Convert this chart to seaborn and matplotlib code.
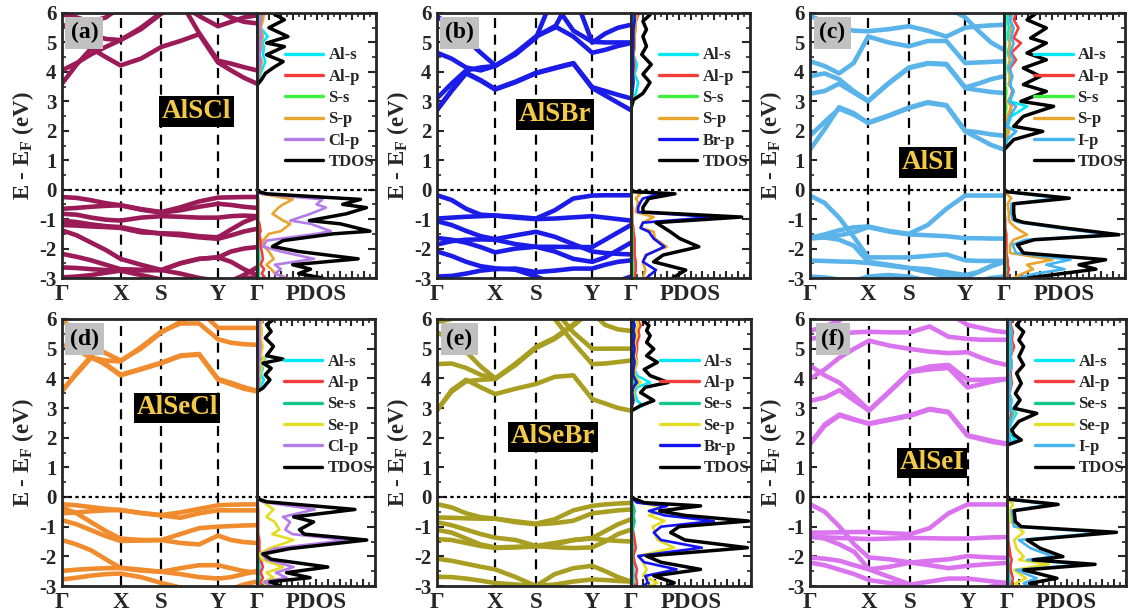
import numpy as np
import pandas as pd
import matplotlib
matplotlib.use("Agg")
import matplotlib.pyplot as plt
import seaborn as sns
from matplotlib.ticker import MultipleLocator

# ---------------------------------------------------------------- k-path
K_NODES = [0.0, 0.075, 0.15, 0.225, 0.30, 0.405, 0.51, 0.607, 0.703, 0.80, 0.867, 0.933, 1.0]
K_TICKS = [0.0, 0.30, 0.51, 0.80, 1.0]
K_LABELS = ["Γ", "X", "S", "Y", "Γ"]
Y_TICKS = [-3, -2, -1, 0, 1, 2, 3, 4, 5, 6]

# ---------------------------------------------------------------- band energies (eV) at K_NODES
ALSCL_BANDS = [
    [3.60, 4.25, 4.80, 4.50, 4.22, 4.45, 4.85, 5.05, 5.28, 4.32, 4.05, 3.80, 3.60],
    [4.05, 4.30, 4.60, 4.85, 5.08, 5.45, 5.98, 6.40, 5.32, 4.38, 4.28, 4.16, 4.05],
    [5.60, 5.45, 5.25, 5.12, 5.08, 5.50, 6.02, 6.30, 5.90, 5.55, 5.70, 5.85, 5.92],
    [5.95, 5.85, 5.70, 5.85, 6.20, 6.50, 6.50, 6.50, 6.50, 6.10, 5.85, 5.70, 5.65],
    [-0.25, -0.28, -0.36, -0.46, -0.53, -0.66, -0.76, -0.60, -0.40, -0.27, -0.26, -0.25, -0.25],
    [-0.65, -0.62, -0.58, -0.55, -0.53, -0.68, -0.78, -0.70, -0.58, -0.48, -0.52, -0.58, -0.62],
    [-0.82, -0.85, -0.95, -1.02, -1.05, -0.95, -0.90, -0.92, -0.95, -0.95, -0.90, -0.88, -0.90],
    [-1.05, -1.10, -1.18, -1.24, -1.27, -1.40, -1.50, -1.55, -1.62, -1.67, -1.55, -1.42, -1.33],
    [-1.20, -1.22, -1.25, -1.27, -1.30, -1.45, -1.48, -1.50, -1.58, -1.62, -1.35, -1.10, -0.93],
    [-1.38, -1.55, -1.80, -2.05, -2.35, -2.55, -2.73, -2.50, -2.35, -2.30, -2.10, -2.00, -1.95],
    [-2.18, -2.28, -2.40, -2.55, -2.70, -2.72, -2.73, -2.50, -2.35, -2.30, -2.45, -2.70, -2.90],
    [-2.64, -2.66, -2.70, -2.73, -2.75, -2.90, -3.05, -3.20, -3.20, -3.20, -3.10, -2.90, -2.64],
    [-2.98, -2.95, -2.90, -2.82, -2.75, -2.74, -2.73, -2.85, -3.00, -3.10, -3.10, -3.00, -2.98],
]
ALSBR_BANDS = [
    [2.70, 3.35, 3.95, 3.70, 3.40, 3.65, 3.95, 4.12, 4.28, 3.45, 3.20, 2.95, 2.70],
    [2.72, 3.37, 3.97, 3.72, 3.42, 3.67, 3.97, 4.14, 4.30, 3.48, 3.35, 3.22, 3.10],
    [3.10, 3.60, 4.05, 4.15, 4.20, 4.65, 5.20, 5.50, 6.70, 6.70, 6.70, 6.70, 6.70],
    [4.65, 4.45, 4.15, 4.05, 4.20, 4.60, 5.20, 5.55, 5.20, 4.65, 4.75, 4.88, 4.98],
    [5.90, 5.50, 5.10, 4.65, 4.22, 4.60, 5.15, 6.70, 6.70, 5.00, 5.30, 5.50, 5.60],
    [6.60, 6.60, 6.60, 6.60, 6.60, 6.60, 6.60, 6.30, 5.40, 5.02, 5.00, 5.00, 5.00],
    [-0.19, -0.35, -0.65, -0.85, -0.88, -0.92, -0.98, -0.70, -0.30, -0.20, -0.19, -0.19, -0.19],
    [-0.98, -0.95, -0.92, -0.90, -0.88, -0.95, -1.00, -0.98, -0.94, -0.90, -0.95, -1.00, -1.05],
    [-1.07, -1.20, -1.40, -1.58, -1.68, -1.55, -1.43, -1.60, -1.85, -2.10, -2.15, -2.18, -2.20],
    [-1.64, -1.70, -1.80, -1.95, -2.13, -2.00, -1.94, -1.94, -1.95, -1.95, -1.70, -1.45, -1.20],
    [-1.86, -1.75, -1.70, -1.69, -1.70, -1.85, -1.94, -2.10, -2.35, -2.45, -2.30, -2.05, -1.80],
    [-2.10, -2.25, -2.45, -2.60, -2.67, -2.72, -2.95, -3.20, -3.30, -3.30, -3.20, -3.10, -2.95],
    [-2.95, -2.93, -2.85, -2.75, -2.70, -2.68, -2.80, -2.75, -2.68, -2.68, -2.55, -2.45, -2.40],
]
ALSI_BANDS = [
    [1.36, 2.05, 2.80, 2.60, 2.26, 2.50, 2.77, 2.95, 2.85, 1.98, 1.75, 1.52, 1.36],
    [1.83, 2.30, 2.75, 2.55, 2.28, 2.52, 2.79, 2.97, 2.87, 2.00, 1.95, 1.88, 1.83],
    [3.26, 3.35, 3.60, 3.30, 3.00, 3.60, 4.13, 4.28, 4.25, 3.45, 3.38, 3.32, 3.28],
    [3.85, 3.95, 3.75, 3.35, 3.02, 3.62, 4.15, 4.30, 4.27, 3.47, 3.60, 3.75, 3.85],
    [4.36, 4.20, 3.95, 4.30, 5.20, 5.00, 4.87, 5.05, 5.05, 4.30, 4.32, 4.34, 4.36],
    [5.90, 5.70, 5.50, 5.40, 5.38, 5.45, 5.55, 5.40, 5.20, 5.50, 5.55, 5.58, 5.60],
    [6.50, 6.50, 6.50, 6.50, 6.50, 6.50, 6.50, 6.50, 6.20, 5.85, 5.40, 5.00, 4.75],
    [-0.20, -0.45, -0.95, -1.60, -2.30, -2.30, -2.30, -2.25, -2.20, -2.40, -2.42, -2.42, -2.42],
    [-1.64, -1.52, -1.38, -1.28, -1.25, -1.40, -1.50, -1.20, -0.65, -0.20, -0.20, -0.20, -0.20],
    [-1.66, -1.62, -1.55, -1.45, -1.27, -1.42, -1.52, -1.55, -1.58, -1.65, -1.65, -1.66, -1.66],
    [-1.60, -1.62, -1.70, -1.90, -2.45, -2.55, -2.66, -2.70, -2.80, -2.90, -2.80, -2.60, -2.45],
    [-2.41, -2.42, -2.44, -2.45, -2.49, -2.58, -2.66, -2.80, -2.95, -3.00, -2.80, -2.60, -2.45],
    [-2.95, -2.98, -3.05, -3.10, -2.95, -2.90, -2.95, -3.10, -3.20, -3.20, -3.10, -3.00, -2.95],
]
ALSECL_BANDS = [
    [3.56, 4.20, 4.75, 4.45, 4.10, 4.30, 4.51, 4.75, 4.80, 3.95, 3.80, 3.65, 3.56],
    [3.58, 4.15, 4.70, 4.48, 4.12, 4.32, 4.53, 4.77, 4.82, 3.98, 3.85, 3.70, 3.58],
    [5.13, 4.95, 4.70, 4.60, 4.57, 5.05, 5.58, 5.85, 5.85, 5.32, 5.20, 5.15, 5.13],
    [5.95, 5.60, 5.10, 4.85, 4.60, 5.00, 5.55, 5.90, 6.30, 5.70, 5.70, 5.70, 5.70],
    [-0.24, -0.28, -0.34, -0.40, -0.44, -0.54, -0.61, -0.52, -0.40, -0.28, -0.26, -0.25, -0.25],
    [-0.55, -0.52, -0.48, -0.45, -0.44, -0.54, -0.62, -0.70, -0.55, -0.45, -0.45, -0.45, -0.45],
    [-0.35, -0.55, -0.85, -1.15, -1.40, -1.45, -1.45, -1.25, -1.05, -1.00, -0.98, -0.96, -0.95],
    [-0.78, -0.92, -1.12, -1.32, -1.48, -1.47, -1.45, -1.55, -1.60, -1.30, -1.45, -1.52, -1.55],
    [-1.45, -1.60, -1.80, -2.10, -2.39, -2.45, -2.52, -2.40, -2.30, -2.30, -2.40, -2.50, -2.55],
    [-2.49, -2.45, -2.42, -2.40, -2.39, -2.48, -2.52, -2.60, -2.70, -2.75, -2.70, -2.60, -2.49],
    [-2.78, -2.72, -2.65, -2.60, -2.58, -2.70, -2.90, -3.05, -3.20, -3.20, -3.10, -2.95, -2.85],
]
ALSEBR_BANDS = [
    [2.91, 3.60, 3.95, 3.70, 3.47, 3.65, 3.81, 4.05, 4.10, 3.30, 3.15, 3.00, 2.91],
    [2.93, 3.55, 3.90, 3.95, 3.98, 4.50, 5.04, 5.35, 5.80, 6.30, 6.50, 6.50, 6.50],
    [4.48, 4.50, 4.35, 4.12, 3.98, 4.45, 5.02, 5.33, 5.78, 6.30, 6.50, 6.50, 6.50],
    [5.55, 5.30, 4.90, 4.40, 4.00, 4.48, 5.06, 5.37, 5.82, 6.30, 6.50, 6.50, 6.50],
    [6.50, 6.50, 6.50, 6.50, 6.50, 6.50, 6.50, 6.30, 5.55, 5.00, 5.00, 5.00, 5.00],
    [6.50, 6.50, 6.50, 6.50, 6.50, 6.50, 6.50, 6.00, 5.20, 4.48, 4.50, 4.55, 4.60],
    [5.90, 6.00, 6.30, 6.50, 6.50, 6.50, 6.50, 6.50, 6.50, 6.20, 5.80, 5.65, 5.60],
    [-0.24, -0.35, -0.55, -0.68, -0.73, -0.82, -0.90, -0.75, -0.45, -0.30, -0.25, -0.22, -0.20],
    [-0.69, -0.70, -0.72, -0.73, -0.73, -0.85, -0.92, -0.88, -0.80, -0.55, -0.50, -0.45, -0.42],
    [-0.85, -0.95, -1.10, -1.25, -1.37, -1.45, -1.65, -1.55, -1.45, -1.38, -1.15, -0.92, -0.75],
    [-1.11, -1.20, -1.40, -1.60, -1.70, -1.68, -1.65, -1.70, -1.72, -1.70, -1.50, -1.25, -1.10],
    [-1.42, -1.45, -1.55, -1.65, -1.72, -1.70, -1.67, -1.60, -1.45, -1.40, -1.45, -1.48, -1.50],
    [-2.08, -2.15, -2.25, -2.35, -2.44, -2.70, -3.00, -2.60, -2.40, -2.32, -2.50, -2.70, -2.85],
    [-2.69, -2.70, -2.75, -2.82, -2.90, -2.95, -3.00, -2.95, -2.85, -2.78, -2.80, -2.83, -2.85],
]
ALSEI_BANDS = [
    [1.78, 2.45, 2.78, 2.62, 2.46, 2.60, 2.74, 2.95, 2.85, 2.06, 1.95, 1.85, 1.78],
    [1.80, 2.40, 2.75, 2.60, 2.48, 2.62, 2.76, 2.97, 2.87, 2.08, 1.98, 1.88, 1.80],
    [3.24, 3.35, 3.60, 3.25, 2.91, 3.55, 4.22, 4.30, 4.35, 3.69, 3.80, 3.90, 3.98],
    [4.43, 4.10, 3.85, 3.40, 2.93, 3.57, 4.24, 4.40, 4.45, 3.95, 3.95, 3.96, 3.98],
    [3.98, 4.30, 4.70, 5.00, 5.27, 5.10, 4.99, 4.90, 4.85, 4.88, 4.70, 4.55, 4.45],
    [5.33, 5.40, 5.50, 5.55, 5.57, 5.55, 5.55, 5.75, 5.40, 5.33, 5.30, 5.30, 5.30],
    [5.60, 5.75, 5.95, 6.30, 6.50, 6.50, 6.50, 6.50, 6.20, 5.80, 5.70, 5.60, 5.55],
    [-0.24, -0.50, -1.00, -1.60, -2.04, -2.10, -2.21, -2.15, -2.10, -1.99, -2.02, -2.04, -2.05],
    [-1.20, -1.20, -1.19, -1.18, -1.18, -1.22, -1.25, -1.05, -0.55, -0.25, -0.25, -0.25, -0.25],
    [-1.33, -1.40, -1.60, -1.85, -2.44, -2.35, -2.21, -2.30, -2.40, -2.32, -2.28, -2.25, -2.22],
    [-2.04, -2.08, -2.15, -2.30, -2.44, -2.70, -2.95, -2.85, -2.75, -2.75, -2.80, -2.85, -2.90],
    [-2.21, -2.30, -2.45, -2.60, -2.80, -2.90, -2.95, -3.10, -3.20, -3.20, -3.10, -3.00, -2.90],
    [-1.35, -1.36, -1.38, -1.40, -1.42, -1.40, -1.38, -1.39, -1.40, -1.40, -1.38, -1.36, -1.35],
]

# ---------------------------------------------------------------- projected DOS (arb. units)
# AlSCl
ALSCL_E = [-3.00, -2.85, -2.70, -2.55, -2.35, -2.10, -1.93, -1.73, -1.50, -1.41, -1.16, -1.05, -0.82, -0.61, -0.50, -0.33, -0.14, -0.05,
           3.55, 3.75, 3.95, 4.15, 4.35, 4.58, 4.86, 4.98, 5.20, 5.50, 5.77, 6.00]
ALSCL_ALS = [0.02, 0.015, 0.015, 0.01, 0.02, 0.015, 0.01, 0.01, 0.01, 0.01, 0.01, 0.005, 0.005, 0.005, 0.0, 0.0, 0.0, 0.0,
             0.0, 0.02, 0.03, 0.05, 0.07, 0.05, 0.06, 0.04, 0.09, 0.03, 0.03, 0.02]
ALSCL_ALP = [0.07, 0.04, 0.06, 0.03, 0.05, 0.04, 0.03, 0.03, 0.02, 0.03, 0.02, 0.01, 0.01, 0.01, 0.01, 0.01, 0.0, 0.0,
             0.0, 0.01, 0.01, 0.02, 0.03, 0.02, 0.03, 0.02, 0.03, 0.03, 0.04, 0.05]
ALSCL_SS = [0.01, 0.01, 0.01, 0.01, 0.01, 0.01, 0.005, 0.005, 0.005, 0.005, 0.005, 0.005, 0.005, 0.005, 0.005, 0.005, 0.0, 0.0,
            0.0, 0.005, 0.005, 0.01, 0.01, 0.005, 0.01, 0.005, 0.01, 0.01, 0.01, 0.01]
ALSCL_SP = [0.25, 0.15, 0.12, 0.08, 0.14, 0.10, 0.06, 0.05, 0.10, 0.20, 0.28, 0.22, 0.13, 0.18, 0.22, 0.30, 0.04, 0.0,
            0.0, 0.01, 0.02, 0.03, 0.04, 0.02, 0.04, 0.03, 0.05, 0.03, 0.05, 0.06]
ALSCL_CLP = [0.25, 0.15, 0.20, 0.15, 0.48, 0.20, 0.05, 0.08, 0.50, 0.62, 0.45, 0.28, 0.45, 0.58, 0.50, 0.55, 0.03, 0.0,
             0.0, 0.01, 0.01, 0.02, 0.03, 0.02, 0.03, 0.02, 0.04, 0.02, 0.03, 0.04]
ALSCL_TDOS = [0.55, 0.35, 0.45, 0.30, 0.85, 0.35, 0.13, 0.22, 0.64, 0.95, 0.70, 0.44, 0.75, 0.92, 0.72, 0.87, 0.08, 0.0,
              0.0, 0.04, 0.07, 0.14, 0.22, 0.08, 0.23, 0.08, 0.26, 0.10, 0.23, 0.13]

# AlSBr
ALSBR_E = [-3.00, -2.73, -2.45, -2.22, -1.94, -1.66, -1.43, -1.30, -1.12, -0.93, -0.76, -0.60, -0.42, -0.30, -0.14, -0.06,
           2.75, 3.05, 3.27, 3.64, 3.92, 4.25, 4.59, 4.87, 5.20, 5.44, 5.72, 5.94]
ALSBR_ALS = [0.02, 0.02, 0.02, 0.015, 0.015, 0.01, 0.01, 0.01, 0.01, 0.005, 0.005, 0.005, 0.0, 0.0, 0.0, 0.0,
             0.0, 0.01, 0.04, 0.06, 0.03, 0.05, 0.02, 0.03, 0.02, 0.02, 0.02, 0.02]
ALSBR_ALP = [0.03, 0.04, 0.04, 0.03, 0.03, 0.03, 0.02, 0.02, 0.01, 0.01, 0.01, 0.01, 0.0, 0.0, 0.0, 0.0,
             0.0, 0.005, 0.01, 0.02, 0.02, 0.03, 0.02, 0.03, 0.03, 0.03, 0.04, 0.06]
ALSBR_SS = [0.015, 0.015, 0.01, 0.01, 0.01, 0.01, 0.01, 0.01, 0.005, 0.005, 0.005, 0.005, 0.0, 0.0, 0.0, 0.0,
            0.0, 0.005, 0.01, 0.015, 0.01, 0.015, 0.01, 0.01, 0.01, 0.01, 0.01, 0.01]
ALSBR_SP = [0.10, 0.12, 0.10, 0.12, 0.30, 0.20, 0.19, 0.08, 0.10, 0.19, 0.04, 0.05, 0.06, 0.04, 0.08, 0.0,
            0.0, 0.005, 0.01, 0.02, 0.02, 0.03, 0.02, 0.03, 0.03, 0.04, 0.04, 0.05]
ALSBR_BRP = [0.13, 0.21, 0.10, 0.13, 0.28, 0.19, 0.15, 0.08, 0.10, 0.70, 0.06, 0.06, 0.08, 0.10, 0.25, 0.0,
             0.0, 0.005, 0.01, 0.02, 0.015, 0.02, 0.015, 0.02, 0.02, 0.02, 0.03, 0.03]
ALSBR_TDOS = [0.35, 0.46, 0.19, 0.27, 0.57, 0.41, 0.33, 0.28, 0.21, 0.93, 0.10, 0.10, 0.13, 0.15, 0.37, 0.0,
              0.0, 0.02, 0.10, 0.16, 0.10, 0.17, 0.09, 0.13, 0.10, 0.13, 0.10, 0.16]

# AlSI
ALSI_E = [-3.00, -2.86, -2.70, -2.55, -2.38, -2.15, -1.87, -1.70, -1.53, -1.30, -1.11, -1.02, -0.80, -0.48, -0.29, -0.06,
          1.35, 1.70, 1.98, 2.15, 2.49, 2.83, 3.00, 3.34, 3.57, 3.85, 4.13, 4.41, 4.64, 4.98, 5.15, 5.49, 5.77, 6.00]
ALSI_ALS = [0.02, 0.02, 0.02, 0.015, 0.015, 0.01, 0.01, 0.01, 0.01, 0.005, 0.005, 0.005, 0.0, 0.0, 0.0, 0.0,
            0.0, 0.03, 0.10, 0.03, 0.06, 0.19, 0.05, 0.08, 0.04, 0.05, 0.03, 0.05, 0.03, 0.05, 0.03, 0.04, 0.03, 0.03]
ALSI_ALP = [0.03, 0.03, 0.04, 0.03, 0.03, 0.02, 0.02, 0.02, 0.02, 0.01, 0.01, 0.01, 0.005, 0.005, 0.005, 0.0,
            0.0, 0.01, 0.04, 0.02, 0.04, 0.06, 0.04, 0.07, 0.05, 0.06, 0.05, 0.10, 0.06, 0.14, 0.08, 0.12, 0.08, 0.10]
ALSI_SS = [0.01, 0.01, 0.01, 0.01, 0.01, 0.01, 0.005, 0.005, 0.005, 0.005, 0.005, 0.005, 0.005, 0.005, 0.005, 0.0,
           0.0, 0.01, 0.02, 0.01, 0.01, 0.02, 0.01, 0.02, 0.01, 0.01, 0.01, 0.01, 0.01, 0.01, 0.01, 0.01, 0.01, 0.01]
ALSI_SP = [0.08, 0.15, 0.24, 0.19, 0.40, 0.05, 0.05, 0.08, 0.19, 0.10, 0.05, 0.04, 0.04, 0.03, 0.06, 0.0,
           0.0, 0.01, 0.04, 0.02, 0.03, 0.06, 0.03, 0.08, 0.04, 0.05, 0.04, 0.05, 0.04, 0.05, 0.05, 0.06, 0.05, 0.06]
ALSI_IP = [0.12, 0.25, 0.50, 0.35, 0.55, 0.10, 0.07, 0.18, 0.88, 0.45, 0.12, 0.07, 0.06, 0.06, 0.45, 0.0,
           0.0, 0.02, 0.10, 0.02, 0.05, 0.10, 0.04, 0.08, 0.05, 0.07, 0.04, 0.08, 0.05, 0.08, 0.06, 0.08, 0.05, 0.07]
ALSI_TDOS = [0.20, 0.46, 0.76, 0.62, 0.84, 0.16, 0.11, 0.25, 0.95, 0.50, 0.16, 0.09, 0.08, 0.08, 0.54, 0.0,
             0.0, 0.08, 0.32, 0.08, 0.16, 0.41, 0.14, 0.35, 0.16, 0.30, 0.16, 0.35, 0.19, 0.35, 0.22, 0.35, 0.19, 0.27]

# AlSeCl
ALSECL_E = [-3.00, -2.86, -2.72, -2.55, -2.36, -2.10, -1.92, -1.74, -1.45, -1.25, -1.10, -0.84, -0.67, -0.42, -0.16, -0.05,
            3.55, 3.67, 3.95, 4.12, 4.34, 4.51, 4.65, 4.76, 5.08, 5.36, 5.58, 5.81, 5.98]
ALSECL_ALS = [0.02, 0.02, 0.02, 0.015, 0.02, 0.015, 0.01, 0.01, 0.01, 0.005, 0.005, 0.005, 0.005, 0.005, 0.0, 0.0,
              0.0, 0.02, 0.06, 0.03, 0.05, 0.02, 0.07, 0.03, 0.04, 0.02, 0.03, 0.02, 0.03]
ALSECL_ALP = [0.03, 0.03, 0.05, 0.03, 0.05, 0.03, 0.02, 0.02, 0.02, 0.01, 0.01, 0.01, 0.01, 0.01, 0.005, 0.0,
              0.0, 0.01, 0.02, 0.02, 0.03, 0.02, 0.04, 0.02, 0.04, 0.03, 0.04, 0.03, 0.05]
ALSECL_SES = [0.01, 0.01, 0.01, 0.01, 0.01, 0.01, 0.005, 0.005, 0.005, 0.005, 0.005, 0.005, 0.005, 0.005, 0.005, 0.0,
              0.0, 0.005, 0.01, 0.01, 0.01, 0.005, 0.01, 0.005, 0.01, 0.005, 0.01, 0.005, 0.01]
ALSECL_SEP = [0.08, 0.05, 0.14, 0.08, 0.22, 0.04, 0.02, 0.10, 0.31, 0.13, 0.19, 0.15, 0.08, 0.14, 0.05, 0.0,
              0.0, 0.01, 0.03, 0.02, 0.04, 0.02, 0.06, 0.03, 0.05, 0.03, 0.04, 0.03, 0.05]
ALSECL_CLP = [0.12, 0.06, 0.25, 0.16, 0.31, 0.08, 0.04, 0.15, 0.76, 0.30, 0.24, 0.28, 0.22, 0.49, 0.04, 0.0,
              0.0, 0.01, 0.02, 0.01, 0.02, 0.01, 0.03, 0.02, 0.03, 0.02, 0.02, 0.02, 0.03]
ALSECL_TDOS = [0.20, 0.11, 0.45, 0.25, 0.60, 0.12, 0.05, 0.28, 0.93, 0.40, 0.36, 0.48, 0.31, 0.83, 0.08, 0.0,
               0.0, 0.05, 0.11, 0.07, 0.12, 0.05, 0.22, 0.08, 0.14, 0.07, 0.12, 0.08, 0.14]

# AlSeBr
ALSEBR_E = [-3.00, -2.89, -2.66, -2.44, -2.20, -1.99, -1.71, -1.45, -1.20, -1.00, -0.81, -0.62, -0.47, -0.30, -0.19, -0.02,
            2.90, 3.08, 3.25, 3.52, 3.70, 3.86, 4.09, 4.30, 4.54, 4.76, 4.99, 5.21, 5.44, 5.61, 5.78, 5.95]
ALSEBR_ALS = [0.02, 0.02, 0.02, 0.02, 0.015, 0.01, 0.015, 0.01, 0.01, 0.005, 0.005, 0.005, 0.005, 0.0, 0.0, 0.0,
              0.0, 0.10, 0.05, 0.03, 0.05, 0.16, 0.05, 0.03, 0.05, 0.03, 0.04, 0.03, 0.03, 0.02, 0.03, 0.02]
ALSEBR_ALP = [0.03, 0.05, 0.04, 0.05, 0.03, 0.02, 0.04, 0.03, 0.02, 0.01, 0.01, 0.01, 0.01, 0.01, 0.005, 0.0,
              0.0, 0.01, 0.02, 0.02, 0.03, 0.06, 0.03, 0.03, 0.05, 0.04, 0.05, 0.05, 0.07, 0.06, 0.08, 0.06]
ALSEBR_SES = [0.01, 0.01, 0.01, 0.01, 0.01, 0.01, 0.01, 0.01, 0.01, 0.02, 0.03, 0.02, 0.03, 0.02, 0.01, 0.0,
              0.0, 0.01, 0.02, 0.01, 0.02, 0.03, 0.01, 0.01, 0.01, 0.01, 0.01, 0.01, 0.01, 0.01, 0.01, 0.01]
ALSEBR_SEP = [0.15, 0.22, 0.10, 0.13, 0.10, 0.06, 0.36, 0.22, 0.20, 0.18, 0.28, 0.15, 0.26, 0.20, 0.08, 0.0,
              0.0, 0.01, 0.03, 0.02, 0.03, 0.08, 0.03, 0.03, 0.05, 0.03, 0.04, 0.03, 0.05, 0.04, 0.06, 0.05]
ALSEBR_BRP = [0.10, 0.14, 0.12, 0.38, 0.11, 0.06, 0.59, 0.25, 0.19, 0.25, 0.69, 0.28, 0.15, 0.30, 0.05, 0.0,
              0.0, 0.01, 0.02, 0.01, 0.02, 0.05, 0.02, 0.02, 0.03, 0.02, 0.03, 0.02, 0.03, 0.02, 0.03, 0.02]
ALSEBR_TDOS = [0.30, 0.36, 0.19, 0.58, 0.25, 0.13, 0.97, 0.45, 0.33, 0.40, 0.98, 0.45, 0.24, 0.58, 0.11, 0.0,
               0.0, 0.08, 0.19, 0.08, 0.12, 0.31, 0.16, 0.11, 0.22, 0.13, 0.19, 0.13, 0.16, 0.13, 0.15, 0.10]

# AlSeI
ALSEI_E = [-3.00, -2.91, -2.74, -2.46, -2.27, -2.12, -2.01, -1.73, -1.45, -1.19, -1.00, -0.83, -0.46, -0.25, -0.07,
           1.75, 1.92, 2.10, 2.26, 2.55, 2.82, 2.99, 3.27, 3.49, 3.83, 4.17, 4.45, 4.73, 5.07, 5.29, 5.57, 5.80, 6.00]
ALSEI_ALS = [0.02, 0.02, 0.02, 0.015, 0.015, 0.01, 0.01, 0.01, 0.01, 0.005, 0.005, 0.005, 0.0, 0.0, 0.0,
             0.0, 0.07, 0.03, 0.02, 0.04, 0.08, 0.03, 0.04, 0.02, 0.03, 0.02, 0.03, 0.02, 0.03, 0.02, 0.03, 0.02, 0.02]
ALSEI_ALP = [0.04, 0.04, 0.05, 0.03, 0.03, 0.04, 0.03, 0.02, 0.01, 0.01, 0.01, 0.01, 0.005, 0.005, 0.0,
             0.0, 0.02, 0.01, 0.01, 0.02, 0.04, 0.02, 0.03, 0.02, 0.04, 0.03, 0.04, 0.03, 0.06, 0.04, 0.05, 0.03, 0.04]
ALSEI_SES = [0.01, 0.01, 0.01, 0.01, 0.01, 0.01, 0.005, 0.005, 0.005, 0.005, 0.005, 0.005, 0.005, 0.005, 0.0,
             0.0, 0.01, 0.005, 0.005, 0.01, 0.01, 0.005, 0.01, 0.005, 0.01, 0.005, 0.01, 0.005, 0.01, 0.005, 0.01, 0.005, 0.01]
ALSEI_SEP = [0.10, 0.07, 0.16, 0.06, 0.35, 0.10, 0.14, 0.08, 0.06, 0.14, 0.08, 0.03, 0.02, 0.05, 0.0,
             0.0, 0.02, 0.01, 0.01, 0.03, 0.06, 0.02, 0.03, 0.02, 0.03, 0.02, 0.04, 0.03, 0.04, 0.03, 0.04, 0.02, 0.03]
ALSEI_IP = [0.18, 0.14, 0.25, 0.08, 0.64, 0.17, 0.39, 0.20, 0.10, 0.83, 0.06, 0.05, 0.04, 0.36, 0.0,
            0.0, 0.03, 0.01, 0.01, 0.03, 0.05, 0.02, 0.03, 0.02, 0.03, 0.02, 0.04, 0.03, 0.04, 0.03, 0.04, 0.02, 0.03]
ALSEI_TDOS = [0.25, 0.19, 0.42, 0.14, 0.74, 0.22, 0.47, 0.28, 0.17, 0.92, 0.12, 0.07, 0.06, 0.43, 0.0,
              0.0, 0.12, 0.06, 0.04, 0.10, 0.25, 0.06, 0.11, 0.07, 0.12, 0.08, 0.14, 0.10, 0.14, 0.10, 0.14, 0.08, 0.12]

# ---------------------------------------------------------------- colours
C_ALS, C_ALP = "#00e8f8", "#f43c3c"
C_SS, C_SES = "#3ef03e", "#12c884"
C_SP, C_SEP = "#e8a42c", "#e4dc22"
C_CLP, C_BRP, C_IP = "#b47ce8", "#1414f0", "#44b4f0"
GOLD = "#f4c948"

# ---------------------------------------------------------------- figure layout (pixels)
W, H = 1129, 616
TOP_ROW, BOT_ROW = (13, 278), (319, 586)

PANELS = [
    dict(tag="(a)", name="AlSCl", color="#9b1b58", bands=ALSCL_BANDS, E=ALSCL_E,
         pdos=[("Al-s", ALSCL_ALS, C_ALS), ("Al-p", ALSCL_ALP, C_ALP), ("S-s", ALSCL_SS, C_SS),
               ("S-p", ALSCL_SP, C_SP), ("Cl-p", ALSCL_CLP, C_CLP)], tdos=ALSCL_TDOS,
         cols=(62, 257, 376), rows=TOP_ROW, name_xy=(0.69, 2.65)),
    dict(tag="(b)", name="AlSBr", color="#1c1ce8", bands=ALSBR_BANDS, E=ALSBR_E,
         pdos=[("Al-s", ALSBR_ALS, C_ALS), ("Al-p", ALSBR_ALP, C_ALP), ("S-s", ALSBR_SS, C_SS),
               ("S-p", ALSBR_SP, C_SP), ("Br-p", ALSBR_BRP, C_BRP)], tdos=ALSBR_TDOS,
         cols=(437, 631, 750), rows=TOP_ROW, name_xy=(0.61, 2.55)),
    dict(tag="(c)", name="AlSI", color="#5ab4ea", bands=ALSI_BANDS, E=ALSI_E,
         pdos=[("Al-s", ALSI_ALS, C_ALS), ("Al-p", ALSI_ALP, C_ALP), ("S-s", ALSI_SS, C_SS),
               ("S-p", ALSI_SP, C_SP), ("I-p", ALSI_IP, C_IP)], tdos=ALSI_TDOS,
         cols=(810, 1004, 1125), rows=TOP_ROW, name_xy=(0.61, 0.92)),
    dict(tag="(d)", name="AlSeCl", color="#f08c2e", bands=ALSECL_BANDS, E=ALSECL_E,
         pdos=[("Al-s", ALSECL_ALS, C_ALS), ("Al-p", ALSECL_ALP, C_ALP), ("Se-s", ALSECL_SES, C_SES),
               ("Se-p", ALSECL_SEP, C_SEP), ("Cl-p", ALSECL_CLP, C_CLP)], tdos=ALSECL_TDOS,
         cols=(62, 257, 375), rows=BOT_ROW, name_xy=(0.59, 3.0)),
    dict(tag="(e)", name="AlSeBr", color="#a89f22", bands=ALSEBR_BANDS, E=ALSEBR_E,
         pdos=[("Al-s", ALSEBR_ALS, C_ALS), ("Al-p", ALSEBR_ALP, C_ALP), ("Se-s", ALSEBR_SES, C_SES),
               ("Se-p", ALSEBR_SEP, C_SEP), ("Br-p", ALSEBR_BRP, C_BRP)], tdos=ALSEBR_TDOS,
         cols=(437, 631, 751), rows=BOT_ROW, name_xy=(0.60, 2.03)),
    dict(tag="(f)", name="AlSeI", color="#da74ee", bands=ALSEI_BANDS, E=ALSEI_E,
         pdos=[("Al-s", ALSEI_ALS, C_ALS), ("Al-p", ALSEI_ALP, C_ALP), ("Se-s", ALSEI_SES, C_SES),
               ("Se-p", ALSEI_SEP, C_SEP), ("I-p", ALSEI_IP, C_IP)], tdos=ALSEI_TDOS,
         cols=(810, 1007, 1126), rows=BOT_ROW, name_xy=(0.62, 1.15)),
]

sns.set_style("ticks")
plt.rcParams.update({
    "font.family": ["Liberation Serif", "DejaVu Serif"],
    "font.weight": "bold",
    "axes.unicode_minus": False,
    "mathtext.fontset": "custom",
    "mathtext.rm": "Liberation Serif",
    "mathtext.bf": "Liberation Serif:bold",
    "axes.linewidth": 2.0,
})


def rect(x0, x1, rows):
    ytop, ybot = rows
    return [x0 / W, 1 - ybot / H, (x1 - x0) / W, (ybot - ytop) / H]


fig = plt.figure(figsize=(W / 100, H / 100), dpi=100)

for p in PANELS:
    x0, xg, x1 = p["cols"]
    axb = fig.add_axes(rect(x0, xg, p["rows"]))
    axd = fig.add_axes(rect(xg, x1, p["rows"]))

    # band structure
    rows = [(k, e, i) for i, band in enumerate(p["bands"]) for k, e in zip(K_NODES, band)]
    df = pd.DataFrame(rows, columns=["k", "E", "band"])
    sns.lineplot(data=df, x="k", y="E", units="band", estimator=None, sort=False,
                 color=p["color"], lw=3.3, ax=axb, legend=False,
                 solid_joinstyle="round", solid_capstyle="round")
    for kv in K_TICKS[1:-1]:
        axb.axvline(kv, color="black", lw=1.6, ls=(0, (4.5, 3)), zorder=1)
    axb.axhline(0, color="black", lw=1.6, ls=(0, (1.5, 1.5)), zorder=1)
    axb.set_xlim(0, 1)
    axb.set_ylim(-3, 6)
    axb.set_xticks(K_TICKS)
    axb.set_xticklabels(K_LABELS, fontsize=16.5, fontweight="bold")
    axb.set_yticks(Y_TICKS)
    axb.set_yticklabels([str(v) for v in Y_TICKS], fontsize=15, fontweight="bold")
    axb.yaxis.set_minor_locator(MultipleLocator(0.5))
    axb.tick_params(axis="x", length=0, pad=4)
    axb.tick_params(axis="y", which="major", direction="in", length=5, width=1.5, pad=4)
    axb.tick_params(axis="y", which="minor", direction="in", length=3, width=1.2)
    axb.set_xlabel("")
    axb.set_ylabel(r"E - E$_\mathbf{F}$ (eV)", fontsize=16.5, fontweight="bold", labelpad=2)
    axb.text(0.115, 0.925, p["tag"], transform=axb.transAxes, ha="center", va="center",
             fontsize=17, fontweight="bold", color="black",
             bbox=dict(boxstyle="square,pad=0.22", facecolor="#c0c0c0", edgecolor="none"))
    axb.text(p["name_xy"][0], p["name_xy"][1], p["name"], ha="center", va="center",
             fontsize=19.5, fontweight="bold", color=GOLD, zorder=5,
             bbox=dict(boxstyle="square,pad=0.1", facecolor="black", edgecolor="none"))

    # projected DOS
    for label, vals, col in p["pdos"]:
        sns.lineplot(x=vals, y=p["E"], sort=False, estimator=None, color=col, lw=1.9,
                     ax=axd, label=label)
    sns.lineplot(x=p["tdos"], y=p["E"], sort=False, estimator=None, color="black", lw=2.5,
                 ax=axd, label="TDOS")
    axd.axhline(0, color="black", lw=1.6, ls=(0, (1.5, 1.5)), zorder=1)
    axd.set_xlim(0, 1.0)
    axd.set_ylim(-3, 6)
    axd.set_xlabel("")
    axd.set_ylabel("")
    axd.xaxis.set_major_locator(MultipleLocator(0.1))
    axd.xaxis.set_minor_locator(MultipleLocator(0.05))
    axd.yaxis.set_major_locator(MultipleLocator(1))
    axd.yaxis.set_minor_locator(MultipleLocator(0.5))
    axd.tick_params(axis="x", which="both", direction="in", top=True, bottom=True,
                    labelbottom=False, labeltop=False)
    axd.tick_params(axis="x", which="major", length=5, width=1.5)
    axd.tick_params(axis="x", which="minor", length=3, width=1.2)
    axd.tick_params(axis="y", which="both", direction="in", left=False, right=True,
                    labelleft=False, labelright=False)
    axd.tick_params(axis="y", which="major", length=6, width=1.5)
    axd.tick_params(axis="y", which="minor", length=3, width=1.2)
    axd.text(0.5, -0.022, "PDOS", transform=axd.transAxes, ha="center", va="top",
             fontsize=16.5, fontweight="bold")
    handles, labels = axd.get_legend_handles_labels()
    leg = axd.legend(handles, labels, loc="upper right", bbox_to_anchor=(1.04, 0.895),
                     frameon=False, fontsize=12, handlelength=2.3, handletextpad=0.3,
                     labelspacing=0.32, borderaxespad=0)
    for line in leg.get_lines():
        line.set_linewidth(2.4)

fig.savefig("out.png", dpi=100)
